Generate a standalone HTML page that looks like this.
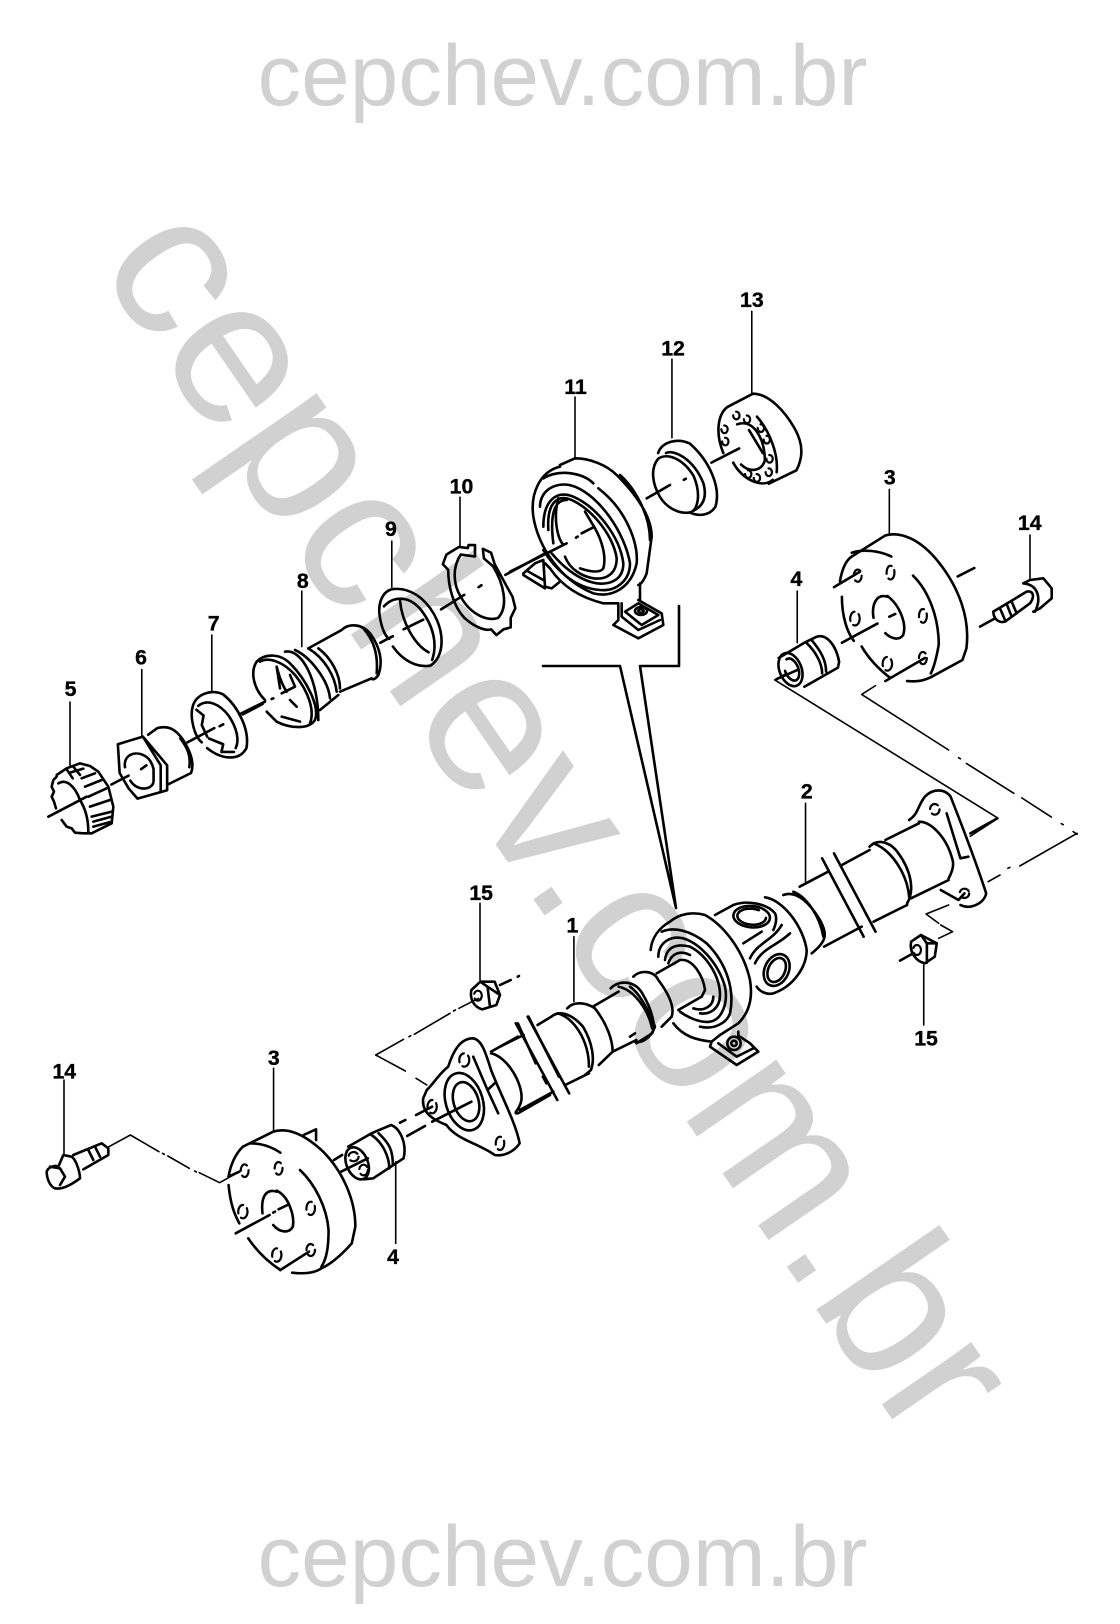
<!DOCTYPE html>
<html><head><meta charset="utf-8"><style>
html,body{margin:0;padding:0;background:#fff}
svg{display:block}
.wm{font-family:"Liberation Sans",sans-serif;fill:#d1d1d1}
.lb{font-family:"Liberation Sans",sans-serif;font-weight:bold;font-size:20.5px;fill:#000;stroke:#000;stroke-width:.35px;text-anchor:middle}
.d *{fill:none;stroke:#000;stroke-width:2.6;stroke-linecap:round;stroke-linejoin:round;vector-effect:non-scaling-stroke}
.d .t{stroke-width:1.6}
.d .h{stroke-dasharray:11 5;stroke-width:2.2}
</style></head><body>
<svg width="1120" height="1624" viewBox="0 0 1120 1624" xmlns="http://www.w3.org/2000/svg">
<rect width="1120" height="1624" fill="#fff"/>
<text class="wm" x="562.5" y="105" font-size="86" text-anchor="middle" textLength="610" lengthAdjust="spacingAndGlyphs">cepchev.com.br</text>
<text class="wm" x="562.5" y="1586" font-size="86" text-anchor="middle" textLength="610" lengthAdjust="spacingAndGlyphs">cepchev.com.br</text>
<text class="wm" x="549" y="826" font-size="206" text-anchor="middle" dominant-baseline="middle" transform="rotate(55.4 549 826)">cepchev.com.br</text>

<!-- upper-left parts -->
<g class="d" transform="matrix(0.35714 0 0 0.38314 0 250)">
<path class="t" d="M196,1180V1345M397,1095V1270M593,1005V1150M845,890V1035M1097,760V880M1288,645V775"/>
<!-- 6 nut -->
<path d="M330,1290L400,1270L468,1345L468,1410L385,1432L360,1405L335,1365ZM400,1270L450,1345L450,1415"/>
<path d="M405,1320C375,1305 345,1320 350,1350M365,1385C385,1415 430,1410 430,1385L430,1355C425,1335 415,1325 405,1320"/>
<path d="M415,1265L440,1248C470,1240 490,1250 510,1275C535,1310 545,1340 535,1365L470,1395M505,1275C525,1300 535,1320 530,1350"/>
<path d="M312,1395L360,1372M395,1355L410,1345M525,1285L600,1248M615,1243L625,1238M680,1212L735,1185"/>
<!-- 7 ring -->
<path d="M540,1190C550,1160 590,1145 625,1160C665,1190 700,1250 690,1300C670,1335 620,1330 580,1300M540,1190C530,1220 545,1270 565,1285"/>
<path d="M555,1190C580,1170 615,1185 640,1215C665,1250 670,1280 660,1300M550,1200L570,1215L565,1240L580,1270M585,1275L625,1290L620,1310L655,1310"/>
<!-- 9 ring -->
<path d="M1100,885C1150,880 1190,910 1215,950C1245,1000 1245,1060 1205,1085C1170,1090 1130,1075 1100,1035M1100,885C1070,890 1055,925 1065,965C1070,990 1080,1010 1090,1015"/>
<path d="M1075,930C1100,905 1140,900 1175,935C1215,980 1225,1030 1210,1070M1120,915C1125,970 1160,1030 1200,1050"/>
<path d="M1065,1025L1100,1008M1130,990L1185,965M1235,938L1300,900M1340,880L1348,875M1415,848L1530,790"/>
<!-- 10 clip -->
<path d="M1330,790L1330,770L1312,770L1310,778L1285,775L1250,795L1240,820L1255,835C1255,880 1270,930 1300,960C1330,985 1360,995 1375,990L1390,1005L1410,990L1430,985L1430,960L1443,935L1435,905L1420,880L1385,820L1375,790L1352,780L1355,805L1380,825C1410,870 1425,930 1395,960C1370,970 1320,955 1290,905C1270,875 1265,830 1290,795L1330,800Z"/>
</g>

<!-- 5 gear -->
<g class="d" transform="translate(30 680) scale(.33333)">
<path d="M80,290L70,300L65,320L72,335L65,350L72,365L78,385M95,420L110,440L125,445L135,458L160,460L185,460"/>
<path d="M80,285L110,265L150,250L180,258L205,275L235,320L250,380L245,430L185,460"/>
<path d="M85,310C110,295 135,320 150,360C175,400 175,440 175,455"/>
<path d="M110,268L128,295M130,260L150,285M120,278L160,266M155,295L195,280M165,320L215,300M175,350L230,325M180,380L240,360M185,410L245,395M190,425L245,410M190,440L245,425"/>
<path d="M55,410L170,350"/>
</g>

<!-- 8 sleeve -->
<g class="d" transform="translate(240 620) scale(.33333)">
<path d="M50,125C75,100 120,100 150,130C200,180 240,260 225,300C205,330 150,325 110,305L80,275"/>
<path d="M50,125C30,155 40,205 75,240M60,125C85,110 130,125 165,165C205,215 225,270 210,310"/>
<path d="M135,95C185,85 235,180 235,300M165,90C210,110 265,180 270,235M205,85C255,115 285,170 290,215M235,85C275,115 300,165 300,205M240,270L295,225"/>
<path d="M205,85L305,30C325,10 365,10 390,40C420,80 430,125 415,165C405,180 395,180 395,175M370,25C400,60 415,100 410,160M300,215L395,175"/>
<path d="M110,140L120,205M125,220L165,200M150,240L170,260M150,165L165,200M110,140C120,180 130,200 140,215M0,282L75,245M95,237L100,235M125,290L180,305"/>
</g>

<!-- 11 center support exploded -->
<g class="d" transform="translate(510 440) scale(.33333)">
<path class="t" d="M195,-129V55"/>
<path d="M150,75L195,55C240,55 290,75 320,105C380,165 425,230 425,290L410,400C400,425 390,435 385,435M330,105C370,140 420,220 420,300"/>
<path d="M150,80C90,95 60,160 70,230C85,320 150,420 250,460C310,475 365,440 380,370C385,310 350,210 265,145"/>
<path d="M100,115C150,85 220,100 250,130M90,200C90,150 140,120 195,140C270,170 345,280 360,370C360,420 320,455 270,450C190,445 130,380 100,330"/>
<path d="M100,260C100,180 140,150 190,170C260,200 330,290 340,370C340,420 300,435 260,430C200,420 150,370 125,340"/>
<path d="M115,270C110,190 140,170 170,175C230,190 310,280 320,355C320,400 290,420 250,415C220,410 180,390 165,350"/>
<path d="M130,310C120,230 130,180 170,180M225,215L255,265C275,300 290,350 280,385C270,400 240,395 210,385M145,175C130,230 140,290 160,315"/>
<path d="M0,395L170,310M198,293L203,290M215,280L250,262M410,175L480,135"/>
<path d="M40,400L75,370L100,360L105,440L125,445L150,425M105,370L120,385M40,405L105,445M55,395L100,420M120,385C150,430 200,470 280,490L325,490L325,540L310,555L385,595L460,555L455,520L385,480M335,490L335,530L385,570L450,540M345,515L385,490L445,525L395,555ZM390,430V480"/>
<ellipse cx="393" cy="513" rx="18" ry="12"/><ellipse cx="393" cy="513" rx="8" ry="5"/>
</g>

<!-- upper-right parts -->
<g class="d" transform="matrix(0.39526 0 0 0.38314 500 250)">
<path class="t" d="M435,285V490M637,160V375M985,625V740M752,890V1025"/>
<!-- 12 -->
<path d="M400,530C410,500 450,490 480,505C530,550 560,620 545,670C530,695 500,695 480,685M400,545C420,530 460,540 490,590C510,640 500,680 480,685C450,690 420,670 405,645C385,610 380,570 400,545M420,530C440,520 490,545 515,610C525,650 510,670 490,680"/>
<path d="M465,600L470,597M535,555L605,518"/>
<!-- 13 -->
<path d="M575,410L640,375C680,375 720,420 745,465C770,510 765,545 750,575L680,610M575,410C550,430 545,480 565,530M590,555C610,595 660,625 690,600M600,455C640,440 670,490 670,550C660,580 630,580 610,560M650,435C680,470 705,530 700,580M630,470L665,530"/>
<ellipse class="h" cx="598" cy="432" rx="8" ry="10"/><ellipse class="h" cx="625" cy="442" rx="8" ry="10"/><ellipse class="h" cx="660" cy="465" rx="8" ry="10"/><ellipse class="h" cx="675" cy="495" rx="8" ry="10"/><ellipse class="h" cx="682" cy="545" rx="8" ry="10"/><ellipse class="h" cx="680" cy="580" rx="8" ry="10"/><ellipse class="h" cx="650" cy="595" rx="8" ry="10"/><ellipse class="h" cx="628" cy="585" rx="8" ry="10"/><ellipse class="h" cx="568" cy="468" rx="8" ry="10"/><ellipse class="h" cx="570" cy="500" rx="8" ry="10"/>
<!-- 3 upper -->
<path d="M890,800L975,745C1010,735 1060,750 1110,815C1160,880 1190,960 1180,1040L1170,1070L1090,1115C1060,1130 1040,1125 1030,1125"/>
<path d="M890,800C875,810 865,835 860,865M890,790C920,780 960,785 990,800M865,905C865,960 880,1000 895,1020M915,1035C935,1070 960,1095 985,1115M1045,850C1085,890 1110,960 1110,1030C1105,1060 1100,1085 1090,1105"/>
<path d="M980,905C950,895 940,930 945,960M980,903C1010,925 1030,975 1020,1005C1010,1020 990,1015 975,1000"/>
<path d="M865,1025L955,975M985,957L1000,950M845,880L910,840M975,1125L1075,1065M1158,852L1200,830"/>
<ellipse class="h" cx="905" cy="850" rx="10" ry="16"/><ellipse class="h" cx="988" cy="842" rx="10" ry="18"/><ellipse class="h" cx="898" cy="962" rx="12" ry="18"/><ellipse class="h" cx="1070" cy="955" rx="10" ry="18"/><ellipse class="h" cx="980" cy="1080" rx="12" ry="18"/><ellipse class="h" cx="1070" cy="1065" rx="10" ry="16"/>
<!-- 4 upper -->
<path d="M705,1065L770,1025L800,1010C825,1000 850,1030 858,1075L855,1090L770,1140M775,1025C800,1050 815,1080 815,1105M790,1020C810,1045 825,1070 825,1100M700,1120L755,1095"/>
<ellipse cx="735" cy="1095" rx="28" ry="45" transform="rotate(-20 735 1095)"/><ellipse cx="738" cy="1095" rx="17" ry="30" transform="rotate(-20 738 1095)" stroke-dasharray="30 12"/>
<!-- phantom lines -->
<path class="t" d="M695,1122L1260,1483L1190,1530M695,1122L725,1105"/>
<path class="t" d="M950,1137L915,1160L1135,1305M1160,1325L1165,1328M1180,1340L1300,1418M1320,1430L1395,1480M1420,1497L1425,1500M1450,1518L1460,1525"/>
</g>

<!-- 14 upper bolt -->
<g class="d" transform="translate(980 560) scale(.33333)">
<path class="t" d="M150,-75V55"/>
<path d="M130,70L150,60L190,55L215,85L215,115L180,145L160,155M130,70C175,75 185,115 165,155M40,155L140,95C160,90 165,110 150,130L75,185C55,190 40,175 40,155M60,145L75,180M80,132L95,170M95,125L110,160M0,200L45,175"/>
</g>

<!-- lower-left parts -->
<g class="d" transform="matrix(0.35714 0 0 0.33333 0 850)">
<path class="t" d="M766,655V840M1344,160V390M1108,935V1180"/>
<path class="t" d="M305,890L365,855L445,905M455,910L460,913M470,918L530,955M545,963L550,966M558,968L615,998L665,968"/>
<!-- 3 lower -->
<path d="M680,890L765,845C810,830 860,860 905,905C960,965 995,1050 995,1130L985,1180C960,1210 930,1240 900,1255C880,1270 850,1272 818,1268"/>
<path d="M680,890C660,910 645,945 640,980M700,880C730,880 760,890 785,908M640,1005C645,1060 655,1090 670,1120M695,1165C720,1205 750,1235 785,1260M840,960C880,1000 915,1070 920,1140C920,1190 915,1225 900,1250"/>
<path d="M775,1025C745,1015 730,1040 735,1090M775,1022C810,1040 825,1100 820,1130C810,1150 785,1150 765,1125"/>
<path d="M660,1150L755,1095M765,1088L770,1085M780,1078L805,1065M785,1260L865,1205M640,980L670,965M850,855L885,838L885,870M935,930L958,915"/>
<ellipse class="h" cx="685" cy="962" rx="11" ry="19"/><ellipse class="h" cx="780" cy="955" rx="11" ry="19"/><ellipse class="h" cx="680" cy="1085" rx="13" ry="20"/><ellipse class="h" cx="870" cy="1075" rx="12" ry="20"/><ellipse class="h" cx="775" cy="1215" rx="13" ry="20"/><ellipse class="h" cx="870" cy="1200" rx="12" ry="18"/>
<!-- 4 lower -->
<path d="M975,890L1040,850L1095,825C1120,835 1140,880 1130,925L1045,985L1020,988M1040,855C1075,880 1090,925 1090,955M1060,850C1090,880 1100,900 1100,945"/>
<ellipse cx="1000" cy="940" rx="30" ry="50" transform="rotate(-20 1000 940)"/>
<ellipse class="h" cx="990" cy="920" rx="14" ry="14"/><ellipse class="h" cx="1018" cy="960" rx="12" ry="16"/>
<path d="M955,965L1030,925M1120,818L1135,810M1165,795L1210,770M1140,858L1190,828M1210,815L1320,755"/>
<!-- left flange -->
<path d="M1195,720C1215,700 1230,670 1255,650C1270,600 1290,565 1325,565C1350,570 1360,610 1375,660C1400,730 1445,820 1455,880C1440,905 1410,920 1385,915C1340,880 1280,870 1250,825C1215,810 1180,790 1185,745Z"/>
<ellipse cx="1300" cy="755" rx="52" ry="88" transform="rotate(-15 1300 755)"/>
<ellipse cx="1305" cy="755" rx="35" ry="60" transform="rotate(-15 1305 755)"/>
<ellipse class="h" cx="1300" cy="630" rx="14" ry="20"/><ellipse class="h" cx="1210" cy="770" rx="13" ry="20"/><ellipse class="h" cx="1400" cy="880" rx="12" ry="20"/>
<path d="M1325,620L1365,720M1365,720L1385,700M1365,720L1395,790"/>
<path d="M1375,605L1450,560M1450,790L1540,735M1450,520L1500,640M1520,680L1530,700M1480,500L1565,680M1375,610C1420,620 1465,700 1460,750C1455,780 1440,785 1445,790"/>
<!-- phantom -->
<path class="t" d="M1135,663L1052,615L1130,568M1145,560L1150,557M1160,553L1260,490M1270,483L1275,480M1285,475L1340,445M1165,685L1195,705"/>
<!-- 15 -->
<path d="M1320,420L1345,395L1385,395L1400,435L1390,465L1350,478C1325,470 1315,445 1320,420ZM1345,395L1365,410L1400,435M1365,410L1372,470M1400,405L1430,390M1450,380L1453,378"/>
<ellipse class="h" cx="1338" cy="437" rx="11" ry="15"/>
</g>

<!-- 14 lower bolt -->
<g class="d" transform="translate(30 1110) scale(.33333)">
<path class="t" d="M102,-90V130"/>
<path d="M50,185C55,170 75,165 85,170L100,135L125,140C140,150 150,190 150,205C130,220 100,240 75,235C60,230 50,205 50,185ZM60,170L90,175L105,200L90,225M130,135L215,100L235,115L235,135L160,178M175,120L190,150M195,110L210,140"/>
</g>

<!-- lower-right parts -->
<g class="d" transform="matrix(0.39526 0 0 0.33333 500 750)">
<path class="t" d="M187,560V755M773,160V395M1072,645V825"/>
<!-- left tube -->
<path d="M0,890L60,855M40,820L145,1050M70,800L175,1030M50,1080L135,1025M165,1005L225,970M95,825L130,800"/>
<path d="M130,800C150,780 180,790 210,830C235,880 240,930 230,960L215,975M145,790C185,800 225,870 225,950"/>
<path d="M170,775C185,755 215,755 240,775C270,820 285,870 285,905L250,945M235,770L300,725M280,715C300,690 340,690 360,730C385,780 395,830 385,850L345,880M300,710C340,720 375,780 385,835M285,905L345,870"/>
<!-- tube right of yoke -->
<path d="M758,410L830,365M865,345L935,300M820,590L915,530M945,515L1030,465M815,325L920,560M845,310L950,545"/>
<path d="M935,290C955,265 985,275 1005,305C1040,360 1050,420 1030,460M945,280C990,300 1030,370 1035,440M975,270L1060,220M1040,445L1135,390"/>
<!-- right flange -->
<path d="M1035,210C1060,190 1055,170 1075,140C1095,115 1125,115 1140,140C1160,200 1200,320 1230,430C1225,460 1190,480 1165,465M1060,215C1090,215 1130,260 1145,330C1150,350 1140,375 1135,385M1130,190L1165,325L1185,320"/>
<ellipse class="h" cx="1100" cy="178" rx="12" ry="16"/><ellipse class="h" cx="1175" cy="430" rx="12" ry="14"/>
<path d="M1115,420L1160,450L1175,430M1190,250L1258,205"/>
<!-- phantom -->
<path class="t" d="M1460,250L1315,348M1290,352L1285,355M1265,375L1235,395M1135,465L1078,492L1110,520M1115,525L1145,545L1110,565"/>
<!-- 15 right -->
<path d="M1040,575L1065,555L1105,580L1100,620L1075,640C1055,635 1035,610 1040,575ZM1065,555L1080,580L1105,580M1080,580L1080,638M1012,632L1045,610"/>
<ellipse class="h" cx="1055" cy="600" rx="10" ry="15"/>
</g>

<!-- center support + yoke -->
<g class="d" transform="translate(630 880) scale(.33333)">
<path d="M120,125C150,100 190,95 225,105C280,135 340,210 360,300C370,360 355,400 325,430L270,465M120,125C85,145 65,175 62,210"/>
<path d="M95,155C130,140 180,150 230,190C290,250 315,330 300,400C290,430 250,450 210,440M85,230C85,190 120,165 160,175C210,190 265,250 285,320C295,370 275,420 240,425C210,430 170,410 150,395M105,240C110,200 140,190 180,200C230,225 270,290 270,345C270,385 240,405 210,400M115,250C125,220 150,210 180,225M190,385C220,395 250,380 250,350"/>
<path d="M130,430C160,470 200,480 245,485L270,465M245,485L240,500L320,555L385,515L360,490L330,470M265,490L320,530L370,505M325,455L325,475"/>
<ellipse cx="312" cy="490" rx="20" ry="20"/><ellipse cx="312" cy="490" rx="8" ry="8"/>
<path d="M80,280L150,240C190,235 220,290 225,330L215,350M145,390L215,350"/>
<path d="M10,290C30,270 70,270 85,300C115,340 135,380 125,410L95,440M0,320C30,340 60,400 75,440C60,480 30,490 15,485M0,470L15,460"/>
<path d="M255,105L310,75C350,60 410,70 435,100C445,120 430,150 430,150"/>
<ellipse cx="365" cy="110" rx="55" ry="32" transform="rotate(5 365 110)"/><ellipse cx="365" cy="110" rx="43" ry="24" transform="rotate(5 365 110)" stroke-dasharray="60 18"/>
<ellipse cx="440" cy="270" rx="36" ry="50" transform="rotate(25 440 270)"/><ellipse cx="440" cy="270" rx="25" ry="38" transform="rotate(25 440 270)"/>
<path d="M405,52C460,60 520,140 530,210C530,260 490,320 430,340C410,345 390,335 380,320M340,190L395,155M360,235C380,190 430,180 455,135M375,250C395,205 445,195 480,160M460,45C500,30 540,70 570,120C590,160 595,180 545,220M490,35C530,50 570,110 580,170"/>
</g>

<!-- callout -->
<g class="d"><path d="M543,666L620,666L676,908M679,606L679,666L640,666L676,908"/></g>

<!-- labels -->
<g transform="scale(1.037)">
<text class="lb" x="725" y="296">13</text>
<text class="lb" x="649" y="343">12</text>
<text class="lb" x="555" y="380">11</text>
<text class="lb" x="445" y="476">10</text>
<text class="lb" x="377" y="517">9</text>
<text class="lb" x="292" y="567">8</text>
<text class="lb" x="206" y="608">7</text>
<text class="lb" x="136" y="641">6</text>
<text class="lb" x="68" y="671">5</text>
<text class="lb" x="858" y="467">3</text>
<text class="lb" x="993" y="511">14</text>
<text class="lb" x="768" y="565">4</text>
<text class="lb" x="778" y="770">2</text>
<text class="lb" x="464" y="868">15</text>
<text class="lb" x="552" y="899">1</text>
<text class="lb" x="62" y="1040">14</text>
<text class="lb" x="264" y="1027">3</text>
<text class="lb" x="379" y="1219">4</text>
<text class="lb" x="893" y="1008">15</text>
</g>
</svg>
</body></html>
